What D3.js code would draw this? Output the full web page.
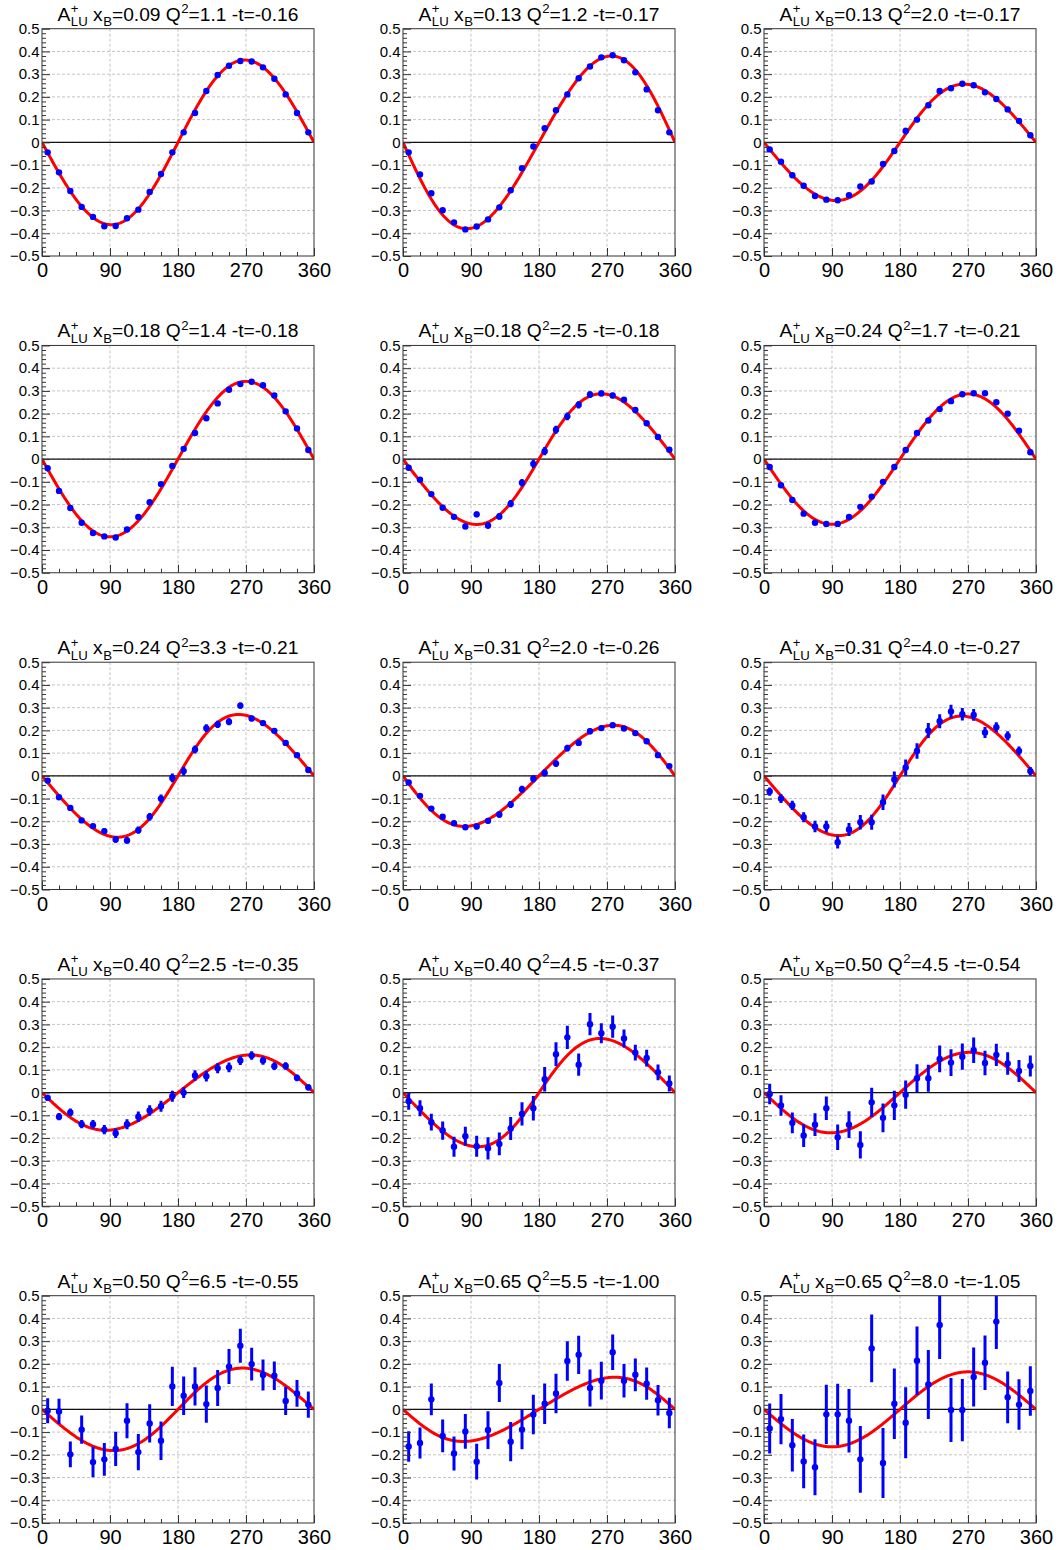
<!DOCTYPE html>
<html>
<head>
<meta charset="utf-8">
<script src="https://cdn.jsdelivr.net/npm/d3@7"></script>
<style>
body { margin: 0; background: #fff; }
svg text { font-family: "Liberation Sans", Arial, Helvetica, sans-serif; white-space: pre; }
</style>
</head>
<body>
<div id="content"></div>
<script>
// bin centres in phi (deg), shared by every panel
const PHI = [7.5, 22.5, 37.5, 52.5, 67.5, 82.5, 97.5, 112.5, 127.5, 142.5, 157.5, 172.5,
             187.5, 202.5, 217.5, 232.5, 247.5, 262.5, 277.5, 292.5, 307.5, 322.5, 337.5, 352.5];

// panel kinematics (title text)
const XB = ['0.09', '0.13', '0.13', '0.18', '0.18', '0.24', '0.24', '0.31', '0.31', '0.40', '0.40', '0.50', '0.50', '0.65', '0.65'];
const Q2 = ['1.1', '1.2', '2.0', '1.4', '2.5', '1.7', '3.3', '2.0', '4.0', '2.5', '4.5', '4.5', '6.5', '5.5', '8.0'];
const MT = ['-0.16', '-0.17', '-0.17', '-0.18', '-0.18', '-0.21', '-0.21', '-0.26', '-0.27', '-0.35', '-0.37', '-0.54', '-0.55', '-1.00', '-1.05'];

// fit parameters: A_LU = -a sin(phi) / (1 + b cos(phi))
const FIT_A = [0.362, 0.378, 0.255, 0.342, 0.285, 0.287, 0.266, 0.220, 0.260, 0.165, 0.235, 0.177, 0.181, 0.139, 0.165];
const FIT_B = [0.03, -0.10, 0.09, 0.00, 0.13, 0.00, 0.17, -0.15, 0.15, -0.10, 0.16, -0.03, 0.08, -0.18, 0.00];

// asymmetry values and errors, one pair of arrays per panel
const A1 = [-0.044, -0.132, -0.214, -0.284, -0.328, -0.369, -0.368, -0.334, -0.296, -0.218, -0.139, -0.044, 0.044, 0.129, 0.226, 0.296, 0.337, 0.358, 0.356, 0.330, 0.280, 0.211, 0.129, 0.044];
const E1 = [0.004, 0.004, 0.004, 0.004, 0.005, 0.005, 0.005, 0.005, 0.005, 0.005, 0.006, 0.006, 0.006, 0.006, 0.005, 0.005, 0.005, 0.005, 0.005, 0.005, 0.004, 0.004, 0.004, 0.004];
const A2 = [-0.044, -0.141, -0.224, -0.299, -0.352, -0.383, -0.370, -0.339, -0.286, -0.211, -0.114, -0.018, 0.062, 0.141, 0.211, 0.282, 0.334, 0.374, 0.383, 0.361, 0.308, 0.233, 0.141, 0.044];
const E2 = [0.005, 0.005, 0.005, 0.005, 0.006, 0.006, 0.006, 0.006, 0.006, 0.007, 0.007, 0.007, 0.007, 0.007, 0.007, 0.006, 0.006, 0.006, 0.006, 0.006, 0.005, 0.005, 0.005, 0.005];
const A3 = [-0.031, -0.085, -0.145, -0.191, -0.236, -0.252, -0.255, -0.233, -0.194, -0.172, -0.095, -0.038, 0.050, 0.100, 0.163, 0.226, 0.238, 0.258, 0.251, 0.220, 0.191, 0.145, 0.094, 0.031];
const E3 = [0.006, 0.006, 0.007, 0.007, 0.008, 0.008, 0.008, 0.009, 0.009, 0.010, 0.011, 0.012, 0.014, 0.012, 0.011, 0.010, 0.009, 0.009, 0.008, 0.008, 0.007, 0.007, 0.006, 0.006];
const A4 = [-0.040, -0.140, -0.215, -0.280, -0.325, -0.340, -0.345, -0.310, -0.255, -0.190, -0.110, -0.030, 0.045, 0.115, 0.180, 0.245, 0.305, 0.330, 0.340, 0.325, 0.280, 0.210, 0.135, 0.040];
const E4 = [0.005, 0.005, 0.005, 0.005, 0.006, 0.006, 0.006, 0.006, 0.006, 0.007, 0.007, 0.007, 0.007, 0.007, 0.007, 0.006, 0.006, 0.006, 0.006, 0.006, 0.005, 0.005, 0.005, 0.005];
const A5 = [-0.038, -0.091, -0.154, -0.214, -0.254, -0.296, -0.243, -0.292, -0.252, -0.196, -0.104, -0.021, 0.035, 0.129, 0.188, 0.239, 0.284, 0.289, 0.280, 0.261, 0.216, 0.158, 0.097, 0.041];
const E5 = [0.008, 0.008, 0.009, 0.010, 0.011, 0.013, 0.013, 0.014, 0.015, 0.016, 0.017, 0.018, 0.018, 0.018, 0.017, 0.016, 0.015, 0.013, 0.012, 0.011, 0.010, 0.009, 0.008, 0.008];
const A6 = [-0.035, -0.115, -0.180, -0.240, -0.280, -0.285, -0.285, -0.255, -0.210, -0.165, -0.100, -0.035, 0.040, 0.115, 0.170, 0.220, 0.255, 0.285, 0.290, 0.290, 0.250, 0.200, 0.125, 0.030];
const E6 = [0.006, 0.006, 0.006, 0.007, 0.007, 0.007, 0.008, 0.008, 0.008, 0.009, 0.009, 0.009, 0.009, 0.009, 0.009, 0.008, 0.008, 0.008, 0.007, 0.007, 0.007, 0.006, 0.006, 0.006];
const A7 = [-0.021, -0.094, -0.141, -0.196, -0.221, -0.243, -0.280, -0.284, -0.239, -0.180, -0.100, -0.009, 0.021, 0.116, 0.210, 0.226, 0.238, 0.309, 0.252, 0.232, 0.198, 0.145, 0.091, 0.026];
const E7 = [0.007, 0.008, 0.009, 0.010, 0.011, 0.012, 0.014, 0.015, 0.016, 0.017, 0.018, 0.019, 0.019, 0.018, 0.017, 0.016, 0.015, 0.014, 0.012, 0.011, 0.010, 0.009, 0.008, 0.007];
const A8 = [-0.029, -0.088, -0.144, -0.180, -0.208, -0.226, -0.223, -0.198, -0.170, -0.126, -0.059, -0.013, 0.013, 0.054, 0.122, 0.145, 0.196, 0.210, 0.223, 0.208, 0.188, 0.152, 0.091, 0.043];
const E8 = [0.006, 0.007, 0.008, 0.009, 0.010, 0.011, 0.012, 0.013, 0.014, 0.015, 0.015, 0.016, 0.016, 0.015, 0.015, 0.014, 0.013, 0.012, 0.011, 0.010, 0.009, 0.008, 0.007, 0.006];
const A9 = [-0.069, -0.100, -0.130, -0.182, -0.223, -0.223, -0.292, -0.236, -0.204, -0.204, -0.116, -0.016, 0.037, 0.109, 0.199, 0.240, 0.283, 0.271, 0.268, 0.191, 0.214, 0.176, 0.110, 0.021];
const E9 = [0.018, 0.019, 0.020, 0.022, 0.025, 0.026, 0.028, 0.029, 0.032, 0.033, 0.034, 0.035, 0.035, 0.034, 0.033, 0.031, 0.030, 0.028, 0.026, 0.024, 0.022, 0.020, 0.019, 0.018];
const A10 = [-0.023, -0.106, -0.087, -0.139, -0.139, -0.163, -0.179, -0.139, -0.106, -0.079, -0.060, -0.016, 0.000, 0.075, 0.072, 0.107, 0.111, 0.141, 0.163, 0.141, 0.116, 0.117, 0.065, 0.023];
const E10 = [0.014, 0.016, 0.017, 0.018, 0.019, 0.020, 0.021, 0.022, 0.023, 0.023, 0.024, 0.024, 0.024, 0.023, 0.023, 0.022, 0.021, 0.020, 0.019, 0.018, 0.017, 0.016, 0.015, 0.014];
const A11 = [-0.038, -0.069, -0.130, -0.167, -0.238, -0.192, -0.236, -0.245, -0.226, -0.158, -0.094, -0.069, 0.059, 0.169, 0.243, 0.123, 0.301, 0.261, 0.290, 0.238, 0.176, 0.152, 0.089, 0.040];
const E11 = [0.037, 0.035, 0.037, 0.040, 0.044, 0.042, 0.046, 0.049, 0.050, 0.051, 0.051, 0.054, 0.054, 0.052, 0.051, 0.049, 0.049, 0.044, 0.049, 0.040, 0.035, 0.037, 0.035, 0.035];
const A12 = [-0.006, -0.057, -0.133, -0.189, -0.141, -0.069, -0.196, -0.141, -0.230, -0.043, -0.111, -0.056, -0.009, 0.063, 0.063, 0.148, 0.132, 0.158, 0.186, 0.130, 0.166, 0.128, 0.095, 0.117];
const E12 = [0.045, 0.045, 0.046, 0.050, 0.050, 0.052, 0.056, 0.059, 0.060, 0.064, 0.063, 0.064, 0.062, 0.062, 0.059, 0.059, 0.059, 0.058, 0.056, 0.054, 0.049, 0.049, 0.048, 0.046];
const A13 = [-0.006, -0.009, -0.198, -0.089, -0.232, -0.220, -0.174, -0.050, -0.188, -0.062, -0.138, 0.101, 0.060, 0.101, 0.023, 0.094, 0.188, 0.280, 0.199, 0.151, 0.148, 0.037, 0.070, 0.021];
const E13 = [0.055, 0.056, 0.057, 0.062, 0.067, 0.072, 0.075, 0.077, 0.080, 0.084, 0.085, 0.086, 0.085, 0.084, 0.082, 0.079, 0.077, 0.075, 0.072, 0.068, 0.063, 0.062, 0.059, 0.058];
const A14 = [-0.163, -0.148, 0.044, -0.117, -0.194, -0.097, -0.230, -0.091, 0.116, -0.142, -0.089, -0.023, 0.025, 0.070, 0.213, 0.240, 0.094, 0.126, 0.251, 0.126, 0.152, 0.113, 0.040, -0.016];
const E14 = [0.067, 0.068, 0.070, 0.072, 0.075, 0.076, 0.079, 0.083, 0.084, 0.086, 0.087, 0.087, 0.089, 0.087, 0.087, 0.084, 0.081, 0.083, 0.078, 0.074, 0.072, 0.071, 0.067, 0.067];
const A15 = [-0.084, -0.043, -0.158, -0.229, -0.255, -0.022, -0.022, -0.050, -0.220, 0.268, -0.236, 0.025, -0.059, 0.214, 0.109, 0.371, -0.003, -0.003, 0.142, 0.205, 0.386, 0.053, 0.021, 0.081];
const E15 = [0.110, 0.110, 0.115, 0.118, 0.123, 0.130, 0.135, 0.140, 0.147, 0.149, 0.154, 0.155, 0.156, 0.151, 0.152, 0.150, 0.141, 0.137, 0.130, 0.120, 0.120, 0.114, 0.111, 0.109];

const VALUES = [A1, A2, A3, A4, A5, A6, A7, A8, A9, A10, A11, A12, A13, A14, A15];
const ERRORS = [E1, E2, E3, E4, E5, E6, E7, E8, E9, E10, E11, E12, E13, E14, E15];

const X_TICKS = [0, 90, 180, 270, 360];
const X_MINOR = [22.5, 45, 67.5, 112.5, 135, 157.5, 202.5, 225, 247.5, 292.5, 315, 337.5];
const Y_TICKS = [-0.5, -0.4, -0.3, -0.2, -0.1, 0, 0.1, 0.2, 0.3, 0.4, 0.5];
const Y_MINOR = d3.range(-25, 26).filter(function (i) {return i % 5 !== 0}).map(function (i) {return i / 50});

var frameLeft = [42, 403, 764];
var frameTop = 28.7;
var rowStep = 316.75;
var width = 272;
var height = 227.3;
var FONT = '"Liberation Sans", Arial, Helvetica, sans-serif';

var svg = d3.select('#content')
    .append('svg')
    .attr('width', 1059)
    .attr('height', 1550)
    .style('display', 'block');

svg.append('rect').attr('width', 1059).attr('height', 1550).attr('fill', '#fff');

function drawTitle(g, i) {
    var pieces = [
        {t: 'A'},
        {sup: '+', sub: 'LU'},
        {t: '\u00a0x'},
        {sub: 'B'},
        {t: '=' + XB[i] + '\u00a0Q'},
        {sup: '2'},
        {t: '=' + Q2[i] + '\u00a0-t=' + MT[i]}
    ];
    var tg = g.append('g');
    var cx = 0;
    pieces.forEach(function (p) {
        var w = 0;
        if (p.t) {
            var t = tg.append('text').attr('x', cx).attr('y', 0)
                .attr('font-size', 19.2).text(p.t);
            w = t.node().getComputedTextLength();
        }
        if (p.sup) {
            var s = tg.append('text').attr('x', cx + 0.5).attr('y', -7.5)
                .attr('font-size', 13.2).text(p.sup);
            w = Math.max(w, s.node().getComputedTextLength() + 0.5);
        }
        if (p.sub) {
            var b = tg.append('text').attr('x', cx + 0.5).attr('y', 5.5)
                .attr('font-size', 13.2).text(p.sub);
            w = Math.max(w, b.node().getComputedTextLength() + 0.5);
        }
        cx += w;
    });
    tg.attr('transform', 'translate(' + (width / 2 - cx / 2) + ',-8)');
}

function drawPanel(i) {
    var col = i % 3;
    var row = Math.floor(i / 3);
    var g = svg.append('g')
        .attr('transform', 'translate(' + frameLeft[col] + ',' + (frameTop + row * rowStep) + ')');

    var xScale = d3.scaleLinear().domain([0, 360]).range([0, width]);
    var yScale = d3.scaleLinear().domain([-0.5, 0.5]).range([height, 0]);

    // grid
    g.selectAll('.grid-x')
        .data(X_TICKS.slice(1, -1))
        .enter()
        .append('line')
        .attr('x1', function (d) {return xScale(d)})
        .attr('x2', function (d) {return xScale(d)})
        .attr('y1', 0).attr('y2', height)
        .attr('stroke', '#c4c4c4').attr('stroke-width', 1).attr('stroke-dasharray', '3,2');
    g.selectAll('.grid-y')
        .data(Y_TICKS.slice(1, -1))
        .enter()
        .append('line')
        .attr('x1', 0).attr('x2', width)
        .attr('y1', function (d) {return yScale(d)})
        .attr('y2', function (d) {return yScale(d)})
        .attr('stroke', '#c4c4c4').attr('stroke-width', 1).attr('stroke-dasharray', '3,2');

    var clipId = 'clip' + i;
    g.append('clipPath').attr('id', clipId)
        .append('rect').attr('width', width).attr('height', height);
    var plot = g.append('g').attr('clip-path', 'url(#' + clipId + ')');

    // zero line
    plot.append('line')
        .attr('x1', xScale(0)).attr('x2', xScale(360))
        .attr('y1', yScale(0)).attr('y2', yScale(0))
        .attr('stroke', '#111').attr('stroke-width', 1.2);

    // fit curve
    var a = FIT_A[i], b = FIT_B[i];
    var fit = function (phi) {
        var r = phi * Math.PI / 180;
        return -a * Math.sin(r) / (1 + b * Math.cos(r));
    };
    var line = d3.line()
        .x(function (d) {return xScale(d)})
        .y(function (d) {return yScale(fit(d))});
    plot.append('path')
        .datum(d3.range(0, 360.5, 1))
        .attr('d', line)
        .attr('fill', 'none')
        .attr('stroke', '#ff0000')
        .attr('stroke-width', 3);

    // points with error bars
    var pts = PHI.map(function (phi, k) {return {phi: phi, v: VALUES[i][k], e: ERRORS[i][k]}});
    plot.selectAll('.err')
        .data(pts)
        .enter()
        .append('line')
        .attr('x1', function (d) {return xScale(d.phi)})
        .attr('x2', function (d) {return xScale(d.phi)})
        .attr('y1', function (d) {return yScale(d.v - d.e)})
        .attr('y2', function (d) {return yScale(d.v + d.e)})
        .attr('stroke', '#0000ff')
        .attr('stroke-width', 3);
    plot.selectAll('.pt')
        .data(pts)
        .enter()
        .append('circle')
        .attr('cx', function (d) {return xScale(d.phi)})
        .attr('cy', function (d) {return yScale(d.v)})
        .attr('r', 3.2)
        .attr('fill', '#0000ff');

    // frame
    g.append('rect')
        .attr('width', width).attr('height', height)
        .attr('fill', 'none').attr('stroke', '#333').attr('stroke-width', 1);

    // axes, ticks drawn inward like ROOT
    var yAxis = d3.axisLeft(yScale)
        .tickValues(Y_TICKS)
        .tickSize(-8)
        .tickPadding(2.5)
        .tickFormat(function (d) {return d === 0 ? '0' : d3.format('.1f')(d)});
    g.append('g').call(yAxis)
        .attr('font-size', 15).attr('font-family', FONT)
        .call(function (s) {s.select('.domain').remove()})
        .call(function (s) {s.selectAll('line').attr('stroke', '#333')})
        .call(function (s) {s.selectAll('text').attr('fill', '#000')});
    g.append('g').call(d3.axisLeft(yScale).tickValues(Y_MINOR).tickSize(-4).tickFormat(''))
        .call(function (s) {s.select('.domain').remove()})
        .call(function (s) {s.selectAll('line').attr('stroke', '#333')});

    var xAxis = d3.axisBottom(xScale)
        .tickValues(X_TICKS)
        .tickSize(-8)
        .tickPadding(7)
        .tickFormat(d3.format('d'));
    g.append('g').attr('transform', 'translate(0,' + height + ')').call(xAxis)
        .attr('font-size', 20).attr('font-family', FONT)
        .call(function (s) {s.select('.domain').remove()})
        .call(function (s) {s.selectAll('line').attr('stroke', '#333')})
        .call(function (s) {s.selectAll('text').attr('fill', '#000')});
    g.append('g').attr('transform', 'translate(0,' + height + ')')
        .call(d3.axisBottom(xScale).tickValues(X_MINOR).tickSize(-4).tickFormat(''))
        .call(function (s) {s.select('.domain').remove()})
        .call(function (s) {s.selectAll('line').attr('stroke', '#333')});

    drawTitle(g, i);
}

function main() {
    for (var i = 0; i < 15; i++) {
        drawPanel(i);
    }
}

main();
</script>
</body>
</html>
